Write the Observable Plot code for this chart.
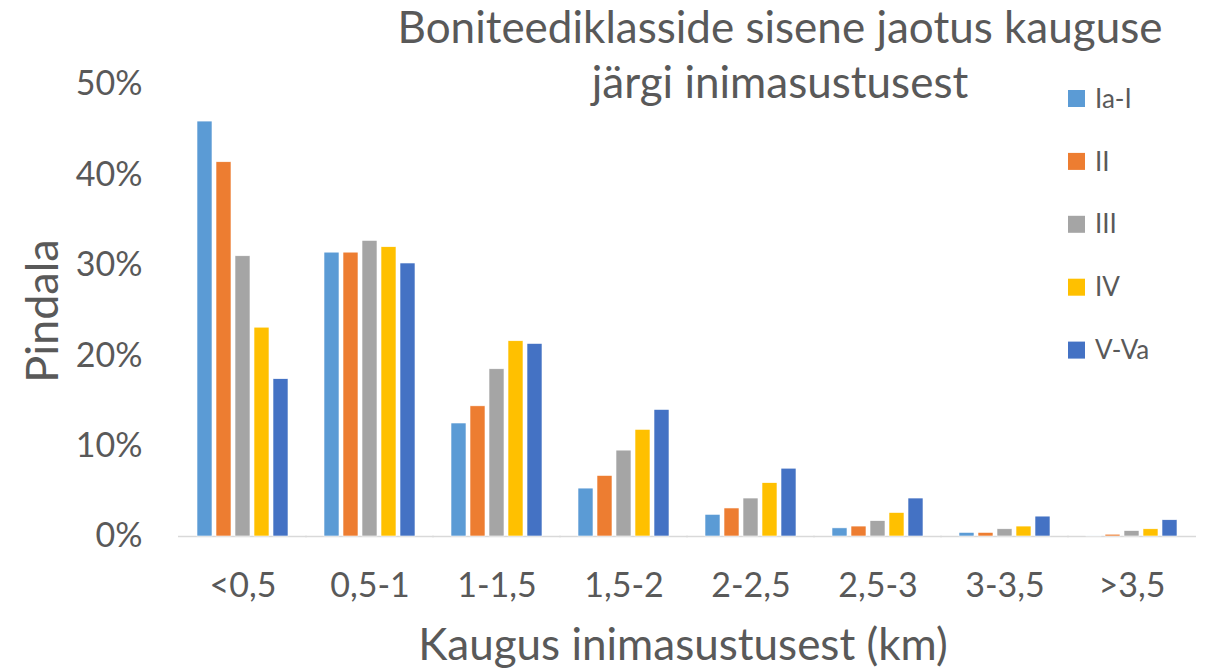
<!DOCTYPE html>
<html><head><meta charset="utf-8">
<script src="https://cdn.jsdelivr.net/npm/d3@7"></script>
<script src="https://cdn.jsdelivr.net/npm/@observablehq/plot@0.6"></script>
<style>
body{margin:0;background:#fff;}
#wrap{width:1211px;height:672px;}
</style></head><body><div id="wrap"></div>
<script>
const categories = ["<0,5","0,5-1","1-1,5","1,5-2","2-2,5","2,5-3","3-3,5",">3,5"];
const series = ["Ia-I","II","III","IV","V-Va"];
const colors = ["#5B9BD5","#ED7D31","#A5A5A5","#FFC000","#4472C4"];
const valIaI = [45.9,31.4,12.5,5.3,2.4,0.9,0.4,0.05];
const valII  = [41.4,31.4,14.4,6.7,3.1,1.1,0.4,0.2];
const valIII = [31.0,32.7,18.5,9.5,4.2,1.7,0.8,0.6];
const valIV  = [23.1,32.0,21.6,11.8,5.9,2.6,1.1,0.8];
const valVVa = [17.4,30.2,21.3,14.0,7.5,4.2,2.2,1.8];
const yTicks = [0,10,20,30,40,50];
const titleLines = ["Boniteediklasside sisene jaotus kauguse","järgi inimasustusest"];
const xTitle = "Kaugus inimasustusest (km)";
const yTitle = "Pindala";

const seriesValues = [valIaI,valII,valIII,valIV,valVVa];
const data = [];
seriesValues.forEach((arr,si)=>arr.forEach((v,ci)=>data.push({cat:categories[ci], series:series[si], value:v})));

const font = "Lato, 'Open Sans', sans-serif";
const textColor = "#595959";

const chart = Plot.plot({
  width:1211, height:672,
  marginTop:84, marginBottom:136, marginLeft:176, marginRight:14,
  style:{fontFamily:font, fontSize:"34px", color:textColor, background:"white", overflow:"visible"},
  fx:{domain:categories, paddingInner:0.27, paddingOuter:0.135, label:null, tickSize:0, tickPadding:36, axis:"bottom"},
  x:{domain:series, paddingInner:0.2, paddingOuter:0, axis:null},
  y:{domain:[0,50], ticks:yTicks, tickFormat:d=>d+"%", tickSize:0, tickPadding:54, label:null},
  color:{domain:series, range:colors},
  marks:[
    Plot.ruleY([0],{stroke:"#d9d9d9", strokeWidth:1.5, insetLeft:-18, insetRight:-18}),
    Plot.barY(data,{fx:"cat", x:"series", y:"value", fill:"series", stroke:"white", strokeWidth:0.6})
  ]
});
document.getElementById("wrap").appendChild(chart);

const svg = d3.select(chart.tagName.toLowerCase()==="svg" ? chart : chart.querySelector("svg"));
const g = svg.append("g").attr("fill", textColor).style("font-family", font);
g.selectAll("text.title").data(titleLines).join("text")
  .attr("x",780).attr("y",(d,i)=>43+i*55).attr("text-anchor","middle")
  .style("font-size","44px").text(d=>d);
g.append("text").attr("x",683).attr("y",660).attr("text-anchor","middle")
  .style("font-size","44px").text(xTitle);
g.append("text").attr("transform","translate(58,311) rotate(-90)").attr("text-anchor","middle")
  .style("font-size","45px").text(yTitle);
const leg = g.append("g");
series.forEach((s,i)=>{
  const cy = 98.5 + i*62.9;
  leg.append("rect").attr("x",1068).attr("y",cy-8.5).attr("width",17).attr("height",17).attr("fill",colors[i]);
  leg.append("text").attr("x",1095).attr("y",cy).attr("dy","0.35em").attr("text-anchor","start").style("font-size","26px").text(s);
});
</script></body></html>
